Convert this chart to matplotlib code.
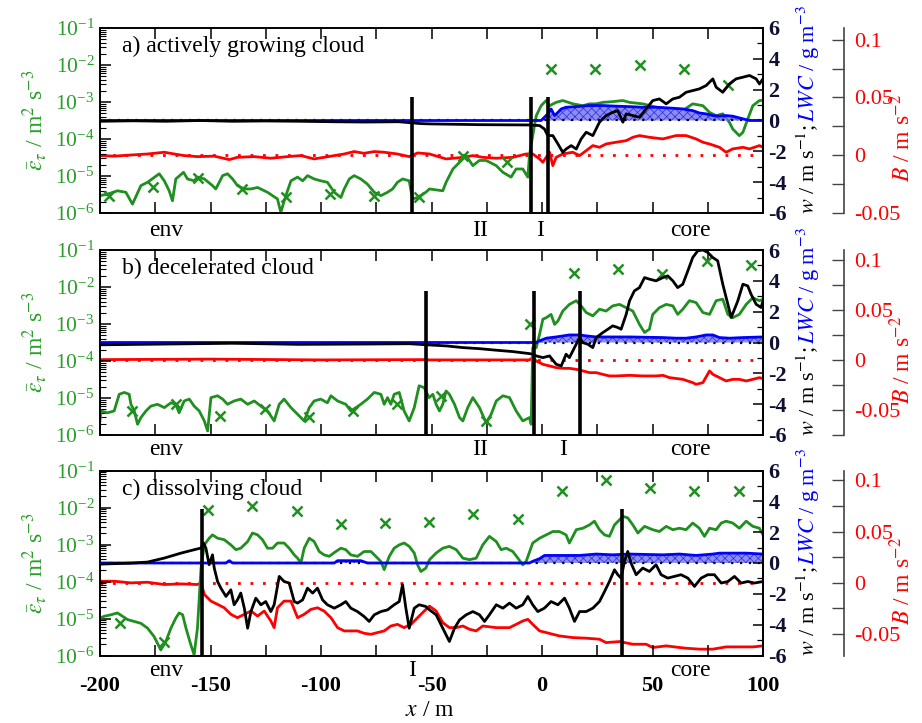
import numpy as np
import matplotlib
matplotlib.use("Agg")
import matplotlib.pyplot as plt
from matplotlib.ticker import MultipleLocator, LogLocator, NullFormatter, FuncFormatter
import matplotlib.transforms as mtransforms

plt.rcParams['font.family'] = ['Liberation Serif', 'DejaVu Serif']
plt.rcParams['mathtext.fontset'] = 'stix'
plt.rcParams['axes.unicode_minus'] = False
plt.rcParams['hatch.linewidth'] = 0.5

GREEN = '#1f8f1f'
GREEN_TXT = '#2a9d2a'
NAVY = '#101035'

# ---------------- panel a) actively growing cloud ----------------
a_eps_x = [-200, -196.6, -192.1, -188.3, -185.3, -181.5, -178.5, -173.2, -170.9, -168.7,
           -167.2, -165.7, -162.2, -160.4, -157.4, -155.9, -152.8, -149.1, -147.6, -144.5,
           -142.3, -140.0, -137.8, -134.7, -131.7, -128.7, -124.2, -119.7, -118.2, -115.9,
           -113.6, -110.6, -108.3, -106.1, -103.1, -100.1, -97.1, -94.0, -91.0, -89.5,
           -87.2, -85.0, -82.0, -79.0, -75.9, -72.9, -69.9, -67.6, -65.4, -63.1,
           -60.1, -58.6, -56.3, -52.6, -50.9, -44.9, -43.4, -40.3, -35.8, -34.3,
           -31.3, -28.3, -25.3, -20.7, -17.7, -14.0, -11.7, -8.7, -6.4, -5.7,
           -4.2, -2.6, -0.4, 1.9, 3.4, 6.4, 9.4, 14.0, 18.5, 21.5,
           24.5, 27.5, 32.0, 36.6, 39.6, 45.6, 51.6, 57.7, 63.7, 68.2,
           72.8, 75.8, 78.8, 81.8, 84.8, 86.3, 89.3, 90.9, 93.1, 95.4,
           98.4, 100]
a_eps_log = [-5.53, -5.49, -5.40, -5.44, -5.76, -5.26, -5.17, -4.94, -5.13, -5.40,
             -5.67, -5.08, -4.90, -5.08, -5.13, -5.03, -5.08, -5.26, -5.35, -4.99,
             -4.94, -5.08, -5.26, -5.35, -5.35, -5.31, -5.44, -5.62, -5.98, -5.53,
             -5.13, -5.03, -5.13, -4.99, -5.08, -5.13, -5.17, -5.44, -5.58, -5.35,
             -5.08, -4.99, -5.08, -5.22, -5.44, -5.53, -5.44, -5.35, -5.17, -5.08,
             -5.13, -5.62, -5.58, -5.44, -5.35, -5.40, -5.17, -4.81, -4.54, -4.45,
             -4.72, -4.58, -4.58, -4.72, -4.90, -5.03, -4.81, -4.81, -5.03, -4.45,
             -3.91, -3.37, -3.10, -2.96, -3.10, -3.01, -2.96, -3.05, -3.10, -3.05,
             -3.05, -3.01, -2.99, -2.96, -3.01, -3.05, -3.14, -3.19, -3.23, -3.05,
             -3.10, -3.28, -3.37, -3.32, -3.55, -3.73, -3.91, -3.82, -3.46, -3.10,
             -2.96, -2.96]
a_mark_x = [-195.8, -175.8, -155.8, -135.8, -115.8, -95.8, -75.8, -55.8, -35.8, -15.8,
            4.2, 24.2, 44.2, 64.2, 84.2]
a_mark_log = [-5.55, -5.31, -5.06, -5.35, -5.58, -5.49, -5.53, -5.58, -4.45, -4.61,
              -2.10, -2.10, -2.01, -2.12, -2.55]
a_w_x = [-200, -185, -170, -155, -140, -125, -110, -95, -80, -65,
         -59, -55, -50.9, -28.3, -5.7, -1.1, 1.1, 2.6, 4.9, 7.2,
         9.4, 10.9, 13.2, 15.5, 17.7, 20.0, 23.0, 26.0, 29.0, 32.0,
         34.3, 36.6, 38.1, 41.1, 44.1, 47.1, 50.1, 53.1, 56.2, 59.2,
         62.2, 65.2, 68.2, 71.2, 74.3, 77.3, 78.8, 81.8, 84.8, 87.8,
         90.9, 93.9, 96.9, 98.4, 100]
a_w = [-0.05, -0.02, -0.05, 0.0, -0.05, -0.03, -0.05, -0.08, -0.1, -0.08,
       -0.15, -0.2, -0.22, -0.27, -0.29, -0.33, -0.55, -0.98, -0.98, -1.52,
       -2.06, -1.85, -1.63, -1.85, -1.2, -0.76, -0.98, -0.11, 0.32, 0.53,
       0.64, -0.11, 0.43, 0.32, 0.21, 0.75, 1.29, 1.4, 1.08, 1.4,
       1.51, 1.83, 1.94, 2.05, 2.27, 2.7, 2.16, 1.83, 2.37, 2.7,
       2.81, 2.92, 2.7, 2.37, 2.7]
a_b_x = [-199.6, -193.6, -186.0, -178.5, -170.9, -166.4, -161.9, -155.9, -148.3, -141.5,
         -137.8, -130.2, -122.7, -115.1, -109.1, -103.1, -95.5, -89.5, -85.0, -80.5,
         -75.9, -71.4, -65.4, -60.1, -56.3, -50.9, -43.4, -35.8, -31.3, -26.8,
         -20.7, -13.2, -7.2, -4.2, -1.1, 0.4, 1.9, 3.4, 4.9, 6.4,
         9.4, 13.9, 17.0, 20.0, 23.0, 26.0, 29.0, 33.5, 38.1, 41.1,
         44.1, 48.6, 54.7, 60.7, 65.2, 69.7, 72.8, 75.8, 80.3, 83.3,
         86.3, 90.9, 93.9, 98.4, 100]
a_b = [-0.0005, -0.001, 0.0, 0.0009, 0.0024, 0.0009, -0.0005, -0.0014, -0.001, -0.004,
       -0.002, -0.0014, -0.0028, -0.0014, -0.0005, -0.0034, -0.001, 0.0009, 0.003, 0.0015,
       0.003, 0.0024, 0.0009, -0.0014, 0.0018, 0.0009, -0.0034, -0.002, -0.0005, -0.002,
       -0.0028, -0.002, 0.0009, 0.0009, -0.0034, -0.0063, -0.002, 0.0024, -0.0092, -0.002,
       0.0009, 0.0024, -0.0005, 0.0038, 0.0082, 0.0067, 0.0096, 0.0111, 0.0125, 0.0154,
       0.0169, 0.0154, 0.014, 0.0169, 0.0169, 0.014, 0.0111, 0.0096, 0.0067, 0.0024,
       0.0053, 0.0067, 0.0053, 0.0082, 0.0067]
a_lwc_x = [-200, -0.4, 0.4, 2.6, 4.1, 5.7, 7.2, 8.7, 10.9, 15.5,
           21.5, 27.5, 33.5, 39.6, 45.6, 51.6, 57.7, 63.7, 68.2, 71.2,
           74.3, 77.3, 80.3, 83.3, 86.3, 90.9, 93.9, 100]
a_lwc = [0, 0, 0.11, 0.43, 0.75, 0.32, 0.53, 0.75, 0.86, 0.9,
         0.97, 0.97, 0.93, 0.9, 0.86, 0.86, 0.81, 0.75, 0.64, 0.49,
         0.43, 0.32, 0.28, 0.32, 0.28, 0.11, 0.0, 0.0]
a_bounds = [-59.0, -4.9, 2.9]
a_regions = [('env', -170), ('II', -28), ('I', -1), ('core', 67)]

# ---------------- panel b) decelerated cloud ----------------
b_eps_x = [-200, -199.6, -196.6, -193.6, -191.3, -189.0, -186.8, -186.0, -184.5, -183.0,
           -181.5, -179.2, -177.0, -174.0, -170.9, -167.9, -165.7, -164.2, -161.9, -159.6,
           -157.4, -155.1, -152.8, -151.3, -149.8, -146.8, -144.5, -142.3, -139.3, -136.3,
           -133.2, -130.2, -127.2, -124.2, -121.2, -118.9, -116.7, -113.6, -110.6, -107.6,
           -105.3, -103.1, -100.1, -97.1, -95.5, -92.5, -88.8, -86.5, -84.2, -82.0,
           -79.0, -75.9, -72.9, -71.4, -69.9, -68.4, -66.9, -64.6, -62.4, -60.1,
           -57.8, -55.6, -53.3, -51.1, -49.4, -47.9, -46.4, -44.9, -43.4, -41.9,
           -39.6, -37.3, -35.8, -33.6, -31.3, -28.3, -25.3, -23.0, -20.7, -17.7,
           -14.7, -11.7, -8.7, -5.7, -4.9, -4.2, -2.6, -1.1, 0.4, 1.9,
           4.1, 5.7, 7.2, 9.4, 12.4, 15.5, 17.7, 20.0, 23.0, 26.0,
           29.0, 32.0, 35.1, 38.1, 41.1, 44.1, 46.4, 48.6, 50.1, 53.1,
           56.2, 59.2, 61.4, 63.7, 66.7, 69.7, 72.8, 75.8, 78.8, 81.8,
           84.1, 86.3, 89.3, 92.4, 95.4, 98.4, 100]
b_eps_log = [-5.62, -5.35, -5.40, -5.35, -4.90, -4.85, -4.90, -5.17, -5.35, -5.71,
             -5.53, -5.35, -5.22, -5.17, -5.26, -5.13, -5.17, -5.40, -5.08, -5.03,
             -5.22, -5.35, -5.62, -5.89, -4.99, -4.94, -5.03, -5.17, -5.08, -5.03,
             -5.17, -5.08, -5.22, -5.35, -5.62, -5.17, -5.03, -5.26, -5.44, -5.62,
             -5.26, -5.08, -5.03, -5.13, -4.94, -5.08, -5.17, -5.35, -5.26, -5.17,
             -5.03, -4.85, -4.90, -5.17, -4.99, -5.17, -4.90, -4.85, -5.35, -5.62,
             -5.26, -4.67, -4.72, -4.99, -4.90, -5.17, -5.35, -5.17, -4.81, -4.90,
             -5.17, -5.53, -5.62, -5.26, -4.99, -5.26, -5.67, -5.44, -5.08, -4.94,
             -4.99, -5.35, -5.62, -5.53, -5.71, -3.64, -3.64, -3.28, -2.87, -2.83,
             -2.74, -3.01, -2.92, -2.65, -2.47, -2.37, -2.51, -2.69, -2.78, -2.60,
             -2.65, -2.51, -2.47, -2.56, -2.65, -3.01, -3.23, -3.14, -2.74, -2.56,
             -2.47, -2.51, -2.74, -2.60, -2.37, -2.42, -2.69, -2.74, -2.37, -2.33,
             -2.74, -2.83, -2.74, -2.47, -2.29, -2.37, -2.33]
b_mark_x = [-185.5, -165.5, -145.5, -125.5, -105.5, -85.5, -65.5, -45.5, -25.5, -5.5,
            14.5, 34.5, 54.5, 74.5, 94.5]
b_mark_log = [-5.35, -5.17, -5.49, -5.31, -5.51, -5.35, -5.17, -4.94, -5.62, -3.01,
              -1.63, -1.52, -1.65, -1.29, -1.40]
b_w_x = [-200, -170, -140, -110, -80, -60, -50.9, -43.4, -35.8, -28.3,
         -20.7, -13.2, -5.7, -4.2, -2.6, 0.4, 3.4, 6.4, 8.7, 10.9,
         12.4, 14.7, 17.0, 18.5, 20.7, 23.0, 24.5, 27.5, 29.8, 32.0,
         34.3, 35.8, 38.1, 39.6, 41.8, 44.1, 46.4, 48.6, 51.6, 54.7,
         56.9, 59.2, 61.4, 63.7, 66.0, 68.2, 70.5, 72.8, 75.0, 77.3,
         79.5, 81.8, 84.1, 85.6, 87.1, 88.6, 90.9, 93.1, 94.6, 96.9,
         99.1, 100]
b_w = [-0.15, -0.1, -0.05, -0.12, -0.1, -0.08, -0.16, -0.22, -0.33, -0.4,
       -0.5, -0.59, -0.72, -0.76, -0.87, -0.98, -0.87, -1.41, -1.52, -0.76,
       -0.98, -0.33, 0.32, -0.01, -0.11, -0.33, 0.32, 0.64, 0.86, 1.08,
       0.97, 0.86, 1.83, 2.7, 3.35, 3.56, 4.21, 4.11, 4.0, 4.21,
       4.32, 4.0, 3.56, 3.78, 4.65, 5.51, 5.95, 6.0, 5.84, 5.51,
       5.3, 3.78, 2.48, 1.62, 2.16, 2.7, 3.78, 3.67, 3.13, 2.48,
       2.27, 2.7]
b_b_x = [-200, -150, -100, -52, -50.9, -5.7, -4.2, -2.6, 0.4, 3.4,
         6.4, 9.4, 12.4, 15.5, 18.5, 21.5, 24.5, 27.5, 30.5, 33.5,
         39.6, 45.6, 51.6, 54.7, 57.7, 63.7, 68.2, 69.7, 72.8, 75.8,
         77.3, 80.3, 83.3, 86.3, 89.3, 92.4, 95.4, 98.4, 100]
b_b = [0.0, 0.0005, -0.0003, 0.0, -0.0003, -0.0003, 0.002, -0.0013, -0.0047, -0.0063,
       -0.008, -0.0087, -0.0087, -0.0097, -0.0113, -0.013, -0.013, -0.0147, -0.0163, -0.0163,
       -0.0157, -0.0163, -0.0163, -0.0157, -0.018, -0.0197, -0.023, -0.0247, -0.023, -0.0113,
       -0.0147, -0.018, -0.0213, -0.0197, -0.0197, -0.0213, -0.0197, -0.018, -0.019]
b_lwc_x = [-200, -2.6, -1.1, 1.9, 6.4, 12.4, 17.0, 20.0, 24.5, 39.6,
           54.7, 60.7, 65.2, 69.7, 74.3, 77.3, 80.3, 84.8, 90.9, 100]
b_lwc = [0, 0, 0.11, 0.28, 0.36, 0.49, 0.49, 0.43, 0.36, 0.36,
         0.32, 0.28, 0.28, 0.36, 0.49, 0.49, 0.32, 0.28, 0.32, 0.36]
b_bounds = [-52.5, -3.7, 17.0]
b_regions = [('env', -170), ('II', -28), ('I', 9.7), ('core', 67)]

# ---------------- panel c) dissolving cloud ----------------
c_eps_x = [-200, -198.1, -195.1, -192.1, -189.8, -187.5, -184.5, -181.5, -178.5, -175.5,
           -172.5, -170.2, -167.9, -165.7, -164.2, -162.6, -161.1, -158.9, -157.4, -155.9,
           -154.3, -152.8, -150.6, -149.1, -146.8, -143.8, -140.8, -138.5, -136.3, -133.2,
           -131.0, -128.7, -126.5, -124.2, -121.9, -119.7, -116.7, -114.4, -112.1, -110.6,
           -109.1, -107.6, -105.3, -103.1, -100.8, -98.6, -96.3, -93.3, -91.0, -88.8,
           -86.5, -83.5, -80.5, -77.4, -75.2, -72.9, -71.4, -69.1, -66.9, -64.6,
           -62.4, -60.1, -57.8, -56.3, -54.8, -52.6, -50.9, -47.9, -44.9, -41.9,
           -38.8, -35.8, -32.8, -29.8, -26.8, -23.8, -20.7, -18.5, -16.2, -13.2,
           -10.9, -8.7, -7.2, -4.2, -1.1, 1.9, 4.9, 7.9, 10.9, 12.4,
           15.5, 18.5, 21.5, 23.7, 26.0, 28.3, 30.5, 32.8, 35.1, 36.6,
           38.8, 41.1, 43.4, 46.4, 50.1, 53.1, 56.2, 59.2, 62.2, 65.2,
           68.2, 71.2, 73.5, 75.8, 78.8, 81.1, 83.3, 86.3, 89.3, 92.4,
           95.4, 98.4, 100]
c_eps_log = [-4.99, -4.94, -4.90, -4.85, -4.94, -5.03, -5.08, -5.13, -5.26, -5.49,
             -5.85, -5.62, -5.26, -4.99, -4.85, -4.90, -5.26, -5.71, -5.98, -5.26,
             -3.64, -3.01, -2.83, -2.74, -2.83, -2.87, -3.01, -3.14, -3.10, -2.92,
             -2.69, -2.74, -2.87, -3.10, -3.10, -2.96, -2.96, -3.10, -3.28, -3.37,
             -3.50, -3.10, -2.83, -2.92, -3.19, -3.28, -3.32, -3.19, -3.10, -3.14,
             -3.28, -3.32, -3.19, -3.19, -3.32, -3.46, -3.68, -3.32, -3.10, -3.01,
             -2.96, -3.05, -3.23, -3.55, -3.73, -3.64, -3.41, -3.23, -3.10, -3.05,
             -3.14, -3.37, -3.41, -3.37, -3.01, -2.78, -2.92, -3.14, -3.10, -3.19,
             -3.37, -3.55, -3.46, -2.96, -2.83, -2.74, -2.65, -2.65, -2.74, -2.96,
             -2.60, -2.56, -2.47, -2.37, -2.60, -2.74, -2.78, -2.47, -2.33, -2.24,
             -2.28, -2.47, -2.69, -2.51, -2.60, -2.65, -2.51, -2.60, -2.56, -2.60,
             -2.42, -2.56, -2.78, -2.56, -2.60, -2.42, -2.37, -2.42, -2.56, -2.37,
             -2.51, -2.56, -2.74]
c_mark_x = [-191, -171, -151, -131, -111, -91, -71, -51, -31, -11,
            9, 29, 49, 69, 89]
c_mark_log = [-5.11, -5.64, -2.06, -1.97, -2.09, -2.45, -2.42, -2.40, -2.18, -2.30,
              -1.56, -1.27, -1.46, -1.56, -1.56]
c_w_x = [-200, -186.0, -178.5, -170.9, -163.4, -157.4, -154.3, -153.1, -152.1, -150.6,
         -149.1, -148.3, -146.8, -145.3, -143.0, -140.8, -139.3, -137.8, -136.3, -134.7,
         -133.2, -131.7, -129.5, -127.2, -125.0, -122.7, -121.2, -118.9, -116.7, -114.4,
         -112.1, -110.6, -108.3, -106.1, -103.8, -101.6, -99.3, -97.1, -94.0, -91.0,
         -88.8, -86.5, -83.5, -80.5, -78.2, -75.9, -72.9, -69.9, -66.9, -64.6,
         -63.1, -61.6, -60.1, -57.8, -55.6, -52.6, -50.9, -47.9, -44.9, -41.9,
         -39.6, -37.3, -34.3, -31.3, -28.3, -26.0, -23.8, -20.7, -17.7, -14.7,
         -11.7, -8.7, -6.4, -4.2, -1.9, 1.1, 4.1, 7.2, 10.2, 12.4,
         14.7, 17.0, 20.0, 23.0, 26.0, 28.3, 30.5, 32.8, 34.3, 35.8,
         37.3, 38.8, 40.3, 42.6, 45.6, 48.6, 51.6, 53.9, 56.9, 59.9,
         62.9, 66.0, 69.0, 72.0, 75.0, 78.0, 81.1, 84.1, 87.1, 90.1,
         93.1, 96.1, 100]
c_w = [-0.07, -0.01, 0.06, 0.32, 0.64, 0.86, 0.97, 1.29, 0.97, -0.11,
       0.53, -0.33, -1.2, -1.63, -2.17, -1.74, -2.71, -2.39, -1.95, -2.93,
       -4.23, -3.15, -2.28, -2.71, -2.5, -3.15, -2.71, -0.87, -1.2, -1.3,
       -2.5, -2.6, -2.39, -1.63, -1.95, -1.63, -2.39, -2.71, -2.93, -2.71,
       -2.5, -2.93, -3.15, -3.47, -3.79, -3.36, -3.15, -3.04, -2.71, -2.5,
       -1.41, -2.93, -4.23, -2.93, -2.71, -2.82, -3.04, -3.36, -4.23, -5.09,
       -4.23, -3.69, -3.36, -3.15, -3.36, -3.79, -3.36, -2.71, -2.93, -2.6,
       -2.93, -2.71, -2.17, -2.71, -3.15, -2.93, -2.5, -2.71, -2.28, -2.93,
       -3.79, -3.15, -3.15, -2.93, -2.5, -1.85, -1.2, -0.44, -0.76, -0.98,
       0.1, 0.75, -0.01, -0.76, -0.33, -0.55, -0.11, -0.76, -0.98, -0.87,
       -0.76, -0.98, -1.52, -0.98, -0.76, -0.76, -1.3, -1.2, -0.87, -1.3,
       -1.2, -1.3, -1.2]
c_b_x = [-200, -193.6, -186.0, -178.5, -170.9, -163.4, -155.9, -154.3, -152.8, -149.8,
         -146.8, -143.8, -140.8, -137.8, -134.7, -131.7, -128.7, -125.7, -122.7, -121.2,
         -119.7, -116.7, -113.6, -110.6, -107.6, -104.6, -101.6, -98.6, -95.5, -92.5,
         -89.5, -83.5, -80.5, -77.4, -74.4, -71.4, -68.4, -65.4, -62.4, -59.3,
         -56.3, -53.3, -50.9, -47.9, -44.9, -41.9, -38.8, -35.8, -32.8, -29.8,
         -26.8, -20.7, -14.7, -11.7, -8.7, -6.4, -4.2, -1.1, 1.9, 4.9,
         7.9, 13.9, 20.0, 26.0, 29.0, 35.1, 41.1, 47.1, 50.1, 56.2,
         62.2, 65.2, 71.2, 77.3, 83.3, 89.3, 95.4, 100]
c_b = [0.0016, 0.0016, 0.0, 0.0006, -0.0016, -0.001, -0.0016, 0.0, -0.0113, -0.0178,
       -0.021, -0.0243, -0.0307, -0.034, -0.0307, -0.0275, -0.0324, -0.0275, -0.0372, -0.0437,
       -0.0243, -0.0178, -0.0178, -0.034, -0.0307, -0.0259, -0.0243, -0.0275, -0.034, -0.0437,
       -0.0469, -0.0469, -0.0492, -0.0502, -0.0485, -0.0469, -0.0421, -0.0405, -0.0437, -0.0405,
       -0.034, -0.0275, -0.0227, -0.0275, -0.0388, -0.0437, -0.0437, -0.0421, -0.0453, -0.0469,
       -0.0421, -0.0437, -0.0437, -0.0405, -0.0372, -0.0356, -0.0405, -0.0469, -0.0485, -0.0502,
       -0.0518, -0.0534, -0.054, -0.055, -0.0583, -0.0573, -0.0599, -0.0599, -0.0631, -0.0615,
       -0.0631, -0.0638, -0.0647, -0.0647, -0.0625, -0.0625, -0.0625, -0.0615]
c_lwc_x = [-200, -143.0, -141.5, -140.0, -94.0, -92.5, -82.0, -79.0, -5.7, -4.2,
           -1.1, 1.1, 17.0, 24.5, 32.0, 39.6, 54.7, 62.2, 69.7, 77.3,
           80.3, 92.4, 100]
c_lwc = [0, 0, 0.15, 0, 0, 0.15, 0.15, 0, 0, 0.11,
         0.28, 0.49, 0.49, 0.58, 0.53, 0.58, 0.53, 0.58, 0.49, 0.58,
         0.64, 0.64, 0.58]
c_bounds = [-153.9, 36.1]
c_regions = [('env', -170), ('I', -59), ('core', 67)]


fig = plt.figure(figsize=(9.22, 7.23), dpi=100)
W, H = 922.0, 723.0


def b_fmt(v, pos):
    v = round(v, 3)
    if abs(v) < 1e-9:
        return '0'
    return '%g' % v


def draw_panel(top_px, title, ex, elog, mx, mlog, wx, w, bx, b, lx, lwc,
               bounds, btop, blim, regions, reg_y, last):
    rect = [100 / W, (H - top_px - 185) / H, 663 / W, 185 / H]
    ax = fig.add_axes(rect)
    ax_w = ax.twinx()
    ax_b = ax.twinx()
    ax_b.set_zorder(1)
    ax.set_zorder(2)
    ax_w.set_zorder(3)
    for a in (ax, ax_w, ax_b):
        a.patch.set_visible(False)

    # epsilon (log scale, left)
    ax.set_yscale('log')
    ax.set_ylim(1e-6, 1e-1)
    ax.set_xlim(-200, 100)
    ax.plot(ex, 10.0 ** np.array(elog), color=GREEN, lw=2.0, zorder=2)
    ax.plot(mx, 10.0 ** np.array(mlog), ls='none', marker='x', ms=7,
            mew=1.8, color=GREEN, zorder=3)
    ax.yaxis.set_major_locator(LogLocator(base=10, numticks=10))
    ax.yaxis.set_minor_locator(LogLocator(base=10, subs=np.arange(2, 10), numticks=10))
    ax.yaxis.set_minor_formatter(NullFormatter())
    ax.tick_params(axis='y', which='major', direction='in', length=8, width=1.1,
                   labelsize=15.5, labelcolor=GREEN_TXT, pad=4)
    ax.tick_params(axis='y', which='minor', direction='in', length=4, width=0.8)
    ax.xaxis.set_major_locator(MultipleLocator(25))
    ax.tick_params(axis='x', which='major', direction='in', length=8, width=1.1,
                   top=True, bottom=True, labelbottom=last, labelsize=16, pad=15)
    if last:
        ax.set_xticks([-200, -175, -150, -125, -100, -75, -50, -25, 0, 25, 50, 75, 100])
        ax.set_xticklabels(['-200', '', '-150', '', '-100', '', '-50', '', '0', '',
                            '50', '', '100'], fontweight='bold')
    for s in ax.spines.values():
        s.set_linewidth(1.4)

    # w and LWC (right axis)
    ax_w.set_ylim(-6, 6)
    ax_w.fill_between(lx, 0, lwc, facecolor='#8c8cf5', edgecolor='#2a2ae0',
                      hatch='xxxx', linewidth=0, zorder=1)
    ax_w.axhline(0, color='k', lw=1.6, ls=(0, (1, 3)), zorder=1.5)
    ax_w.plot(lx, lwc, color='#0000ff', lw=2.0, zorder=2)
    ax_w.plot(wx, w, color='k', lw=2.0, zorder=3)
    ax_w.vlines(bounds, -6, btop, colors='k', lw=2.6, zorder=4)
    ax_w.yaxis.set_major_locator(MultipleLocator(2))
    ax_w.yaxis.set_minor_locator(MultipleLocator(1))
    ax_w.tick_params(axis='y', which='major', direction='in', length=7, width=1.1,
                     labelsize=16, labelcolor=NAVY, pad=4)
    ax_w.tick_params(axis='y', which='minor', direction='in', length=4, width=0.9)
    for lab in ax_w.get_yticklabels():
        lab.set_fontweight('bold')
    for side in ('left', 'top', 'bottom'):
        ax_w.spines[side].set_visible(False)
    ax_w.spines['right'].set_linewidth(1.4)

    # buoyancy (offset right axis)
    ax_b.set_ylim(*blim)
    ax_b.axhline(0, color='#ff0000', lw=2.0, ls=(0, (1, 3.5)), zorder=1)
    ax_b.plot(bx, b, color='#ff0000', lw=2.0, zorder=2)
    ax_b.spines['right'].set_position(('axes', 1.1222))
    for side in ('left', 'top', 'bottom'):
        ax_b.spines[side].set_visible(False)
    ax_b.spines['right'].set_color('#444444')
    ax_b.spines['right'].set_linewidth(1.2)
    ax_b.yaxis.set_major_locator(MultipleLocator(0.05))
    ax_b.yaxis.set_minor_locator(MultipleLocator(0.025))
    ax_b.yaxis.set_major_formatter(FuncFormatter(b_fmt))
    ax_b.tick_params(axis='y', which='both', direction='in', length=9, width=1.0,
                     color='#444444')
    ax_b.tick_params(axis='y', which='major', labelsize=16, labelcolor='#ff0000', pad=7)

    # texts
    ax.text(0.033, 0.9, title, transform=ax.transAxes, fontsize=17,
            ha='left', va='center')
    trans = mtransforms.blended_transform_factory(ax.transData, ax.transAxes)
    for name, xpos in regions:
        ax.text(xpos, reg_y, name, transform=trans, fontsize=17,
                ha='center', va='center')
    ax.text(-0.098, 0.5, r'$\bar{\varepsilon}_{\tau}$ / m$^{2}$ s$^{-3}$',
            transform=ax.transAxes, rotation=90, fontsize=17, color=GREEN_TXT,
            ha='center', va='center')
    ax.text(1.068, -0.005, r'$w$ / m s$^{-1}$;', transform=ax.transAxes,
            rotation=90, fontsize=16, color='k', ha='center', va='bottom')
    ax.text(1.068, 0.49, r'$LWC$ / g m$^{-3}$', transform=ax.transAxes,
            rotation=90, fontsize=16, color='#0000ff', ha='center', va='bottom')
    ax.text(1.21, 0.405, r'$B$ / m s$^{-2}$', transform=ax.transAxes,
            rotation=90, fontsize=17, color='#ff0000', ha='center', va='center')
    return ax


draw_panel(28, 'a) actively growing cloud', a_eps_x, a_eps_log, a_mark_x, a_mark_log,
           a_w_x, a_w, a_b_x, a_b, a_lwc_x, a_lwc, a_bounds, 1.5,
           (-0.0504, 0.1104), a_regions, -0.092, False)
draw_panel(250, 'b) decelerated cloud', b_eps_x, b_eps_log, b_mark_x, b_mark_log,
           b_w_x, b_w, b_b_x, b_b, b_lwc_x, b_lwc, b_bounds, 3.35,
           (-0.0753, 0.1095), b_regions, -0.076, False)
draw_panel(470.5, 'c) dissolving cloud', c_eps_x, c_eps_log, c_mark_x, c_mark_log,
           c_w_x, c_w, c_b_x, c_b, c_lwc_x, c_lwc, c_bounds, 3.5,
           (-0.0709, 0.1097), c_regions, -0.08, True)

fig.text(430 / W, 1 - 710 / H, r'$x$ / m', fontsize=17, ha='center', va='center')

fig.savefig('out.png', dpi=100)
